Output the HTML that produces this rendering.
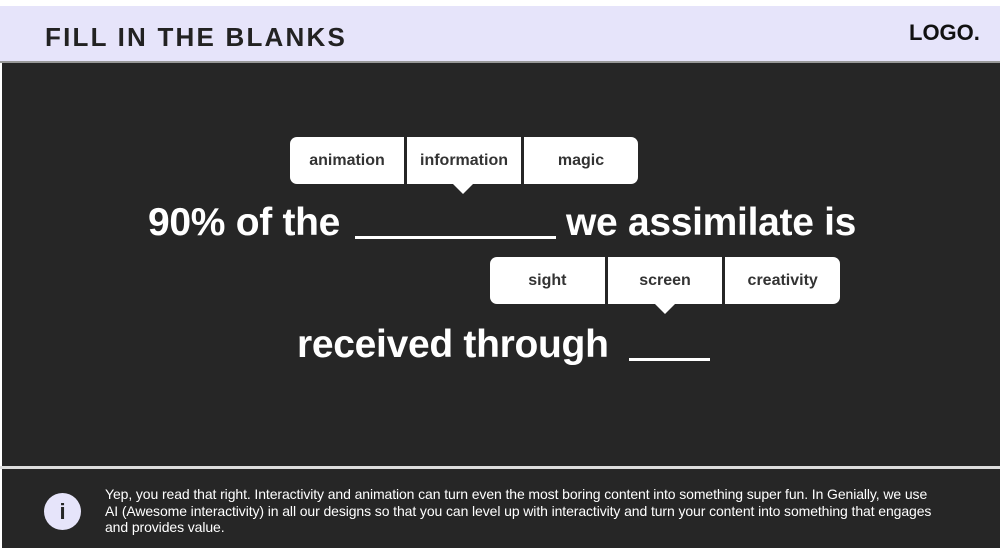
<!DOCTYPE html>
<html><head><style>
body{margin:0;width:1000px;height:548px;position:relative;overflow:hidden;background:#fff;font-family:"Liberation Sans",sans-serif}
.a{position:absolute}
.w{color:#fff;font-weight:bold;font-size:39px;white-space:nowrap;letter-spacing:-0.3px}
.pop{position:absolute;height:47px;display:flex;gap:3px;}
.pop div{background:#fff;flex:1;display:flex;align-items:center;justify-content:center;font-size:16px;font-weight:bold;color:#333;}
.pop div:first-child{border-radius:7px 0 0 7px}
.pop div:last-child{border-radius:0 7px 7px 0}
.tail{position:absolute;width:0;height:0;border-left:10px solid transparent;border-right:10px solid transparent;border-top:10px solid #fff}
.ul{position:absolute;height:3px;background:#fff}
</style></head><body>
<div class="a" style="left:0;top:6px;width:1000px;height:55px;background:#e6e4fa"></div>
<div class="a" style="left:45px;top:22px;font-size:26px;font-weight:bold;color:#222;letter-spacing:2.2px;white-space:nowrap">FILL IN THE BLANKS</div>
<div class="a" style="left:909px;top:20px;font-size:22px;font-weight:bold;color:#111">LOGO.</div>
<div class="a" style="left:0;top:61px;width:1000px;height:2px;background:#999"></div>
<div class="a" style="left:2px;top:63px;width:998px;height:403px;background:#262626"></div>
<div class="a" style="left:0;top:466px;width:1000px;height:3px;background:#ddd"></div>
<div class="a" style="left:2px;top:469px;width:998px;height:79px;background:#262626"></div>

<div class="pop" style="left:290px;top:137px;width:348px"><div>animation</div><div>information</div><div>magic</div></div>
<div class="tail" style="left:453px;top:184px"></div>
<div class="a w" style="left:148px;top:201px">90% of the</div>
<div class="ul" style="left:355px;top:236px;width:201px"></div>
<div class="a w" style="left:566px;top:201px">we assimilate is</div>

<div class="pop" style="left:490px;top:257px;width:350px"><div>sight</div><div>screen</div><div>creativity</div></div>
<div class="tail" style="left:655px;top:304px"></div>
<div class="a w" style="left:297px;top:323px">received through</div>
<div class="ul" style="left:629px;top:358px;width:81px"></div>

<div class="a" style="left:44px;top:493px;width:37px;height:37px;border-radius:50%;background:#e6e4fa;color:#262626;font-weight:bold;font-size:22px;text-align:center;line-height:37px">i</div>
<div class="a" style="left:105px;top:486px;width:880px;color:#fff;font-size:14px;line-height:16.5px;letter-spacing:-0.1px;white-space:nowrap">Yep, you read that right. Interactivity and animation can turn even the most boring content into something super fun. In Genially, we use<br>AI (Awesome interactivity) in all our designs so that you can level up with interactivity and turn your content into something that engages<br>and provides value.</div>
</body></html>
